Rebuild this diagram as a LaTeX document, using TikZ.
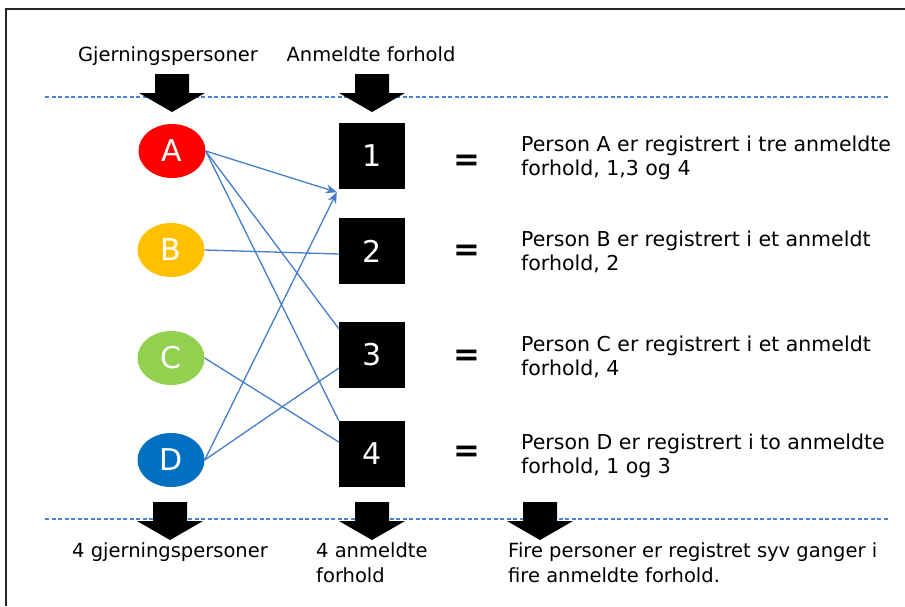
\documentclass[tikz,border=0pt]{standalone}
\usepackage{fontspec}
\setmainfont{DejaVu Sans}
\usetikzlibrary{shapes.geometric,arrows.meta,calc}
\definecolor{conn}{RGB}{70,125,200}
\definecolor{dashblue}{RGB}{70,130,205}
\definecolor{pA}{RGB}{255,0,0}
\definecolor{pB}{RGB}{255,192,0}
\definecolor{pC}{RGB}{146,208,80}
\definecolor{pD}{RGB}{0,112,192}
\newcommand\blockarrow[2]{%
  \fill[black] (#1-17,#2) -- (#1+17,#2) -- (#1+17,#2+19) -- (#1+33,#2+19)
    -- (#1,#2+38) -- (#1-33,#2+19) -- (#1-17,#2+19) -- cycle;}
\begin{document}
\begin{tikzpicture}[x=1pt,y=-1pt,
  person/.style={ellipse,minimum width=67pt,minimum height=54pt,inner sep=0pt,
    text=white,font=\fontsize{30}{32}\selectfont},
  crime/.style={rectangle,minimum size=66pt,inner sep=0pt,fill=black,
    text=white,font=\fontsize{30}{32}\selectfont},
  conline/.style={draw=conn,line width=1.3pt},
  eqsign/.style={font=\fontsize{32}{34}\selectfont\bfseries,inner sep=0pt},
  desc/.style={anchor=base west,inner sep=0pt,font=\fontsize{20.5}{24}\selectfont},
  small/.style={inner sep=0pt,font=\fontsize{19.5}{24}\selectfont},
  sep/.style={draw=dashblue,line width=1.4pt,dash pattern=on 4pt off 2.5pt}]
\useasboundingbox (0,0) rectangle (905,606);
% frame
\draw[line width=2pt,black!85] (6,8.5) -- (905,8.5);
\draw[line width=2pt,black!85] (6,8) -- (6,606);
% separators
\draw[sep] (45,97) -- (890,97);
\draw[sep] (45,519) -- (890,519);
% headers
\node[small,anchor=base] (h1) at (168,61) {Gjerningspersoner};
\node[small,anchor=base] (h2) at (371,61) {Anmeldte forhold};
% block arrows
\blockarrow{172}{74}
\blockarrow{372}{74}
\blockarrow{170}{502}
\blockarrow{372}{502}
\blockarrow{540}{502}
% persons
\node[person,fill=pA] (A) at (172,151) {A};
\node[person,fill=pB] (B) at (171,250) {B};
\node[person,fill=pC] (C) at (171,358) {C};
\node[person,fill=pD] (D) at (171,460) {D};
% crimes
\node[crime] (s1) at (372,156) {1};
\node[crime] (s2) at (372,251) {2};
\node[crime] (s3) at (372,355) {3};
\node[crime] (s4) at (372,454) {4};
% connectors
\coordinate (t1) at ($(s1.south west)+(-2,3)$);
\draw[conline,-{Stealth[length=11pt,width=9pt]}] (A.east) -- (t1);
\draw[conline] (A.east) -- ($(s3.north west)+(0,7)$);
\draw[conline] (A.east) -- (s4.north west);
\draw[conline] (B.east) -- ($(s2.west)+(0,3)$);
\draw[conline] (C.east) -- ($(s4.west)+(0,-12)$);
\draw[conline] (D.east) -- ($(s3.west)+(0,13)$);
\draw[conline,-{Stealth[length=11pt,width=9pt]}] (D.east) -- (t1);
% equals
\node[eqsign] (e1) at (467,163) {=};
\node[eqsign] (e2) at (467,253) {=};
\node[eqsign] (e3) at (467,358) {=};
\node[eqsign] (e4) at (467,454) {=};
% descriptions
\node[desc] (d1a) at (521,151) {Person A er registrert i tre anmeldte};
\node[desc] (d1b) at (521,175) {forhold, 1,3 og 4};
\node[desc] (d2a) at (521,246) {Person B er registrert i et anmeldt};
\node[desc] (d2b) at (521,270) {forhold, 2};
\node[desc] (d3a) at (521,351) {Person C er registrert i et anmeldt};
\node[desc] (d3b) at (521,375) {forhold, 4};
\node[desc] (d4a) at (521,449) {Person D er registrert i to anmeldte};
\node[desc] (d4b) at (521,473) {forhold, 1 og 3};
% bottom texts
\node[small,anchor=base west] (b1) at (72,557) {4 gjerningspersoner};
\node[small,anchor=base west] (b2a) at (316,557) {4 anmeldte};
\node[small,anchor=base west] (b2b) at (316,582) {forhold};
\node[small,anchor=base west] (b3a) at (508,557) {Fire personer er registret syv ganger i};
\node[small,anchor=base west] (b3b) at (508,582) {fire anmeldte forhold.};
\end{tikzpicture}
\end{document}
